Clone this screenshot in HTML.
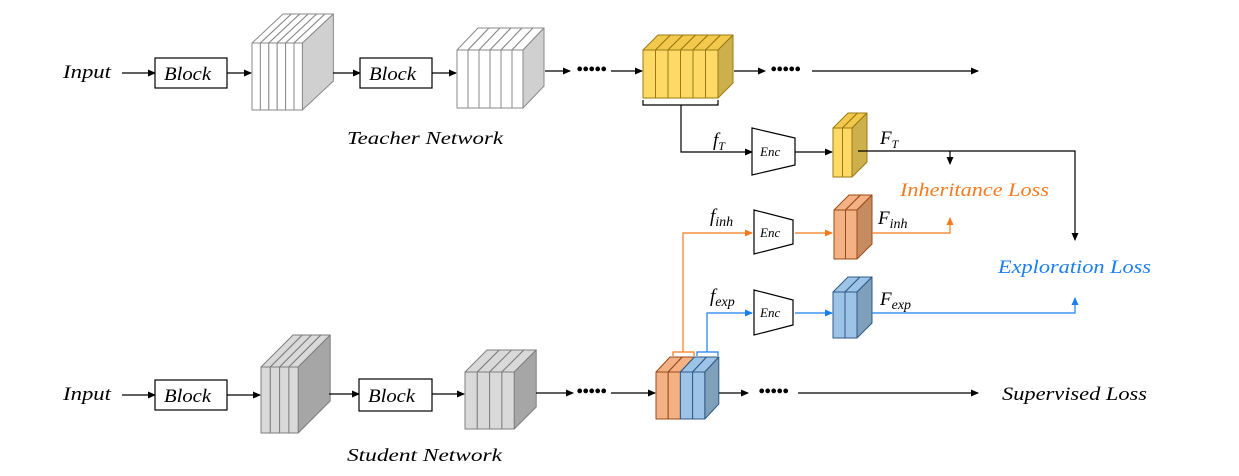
<!DOCTYPE html>
<html><head><meta charset="utf-8"><style>
html,body{margin:0;padding:0;background:#fff}
svg{display:block}
text{font-family:"Liberation Serif",serif;font-style:italic}
</style></head><body>
<svg width="1239" height="476" viewBox="0 0 1239 476" xmlns="http://www.w3.org/2000/svg" xmlns:xlink="http://www.w3.org/1999/xlink">
<defs>
<marker id="ak" markerWidth="8" markerHeight="8" refX="7" refY="4" orient="auto" markerUnits="userSpaceOnUse"><path d="M0,0.5 L8,4 L0,7.5 z" fill="#000"/></marker>
<marker id="ao" markerWidth="8" markerHeight="8" refX="7" refY="4" orient="auto" markerUnits="userSpaceOnUse"><path d="M0,0.5 L8,4 L0,7.5 z" fill="#f47b20"/></marker>
<marker id="ab" markerWidth="8" markerHeight="8" refX="7" refY="4" orient="auto" markerUnits="userSpaceOnUse"><path d="M0,0.5 L8,4 L0,7.5 z" fill="#1a7ef0"/></marker>
<g id="t1" stroke="#8a8a8a" stroke-width="1" stroke-linejoin="round">
<polygon points="0,0 31,-29 39.4,-29 8.4,0" fill="#fff"/>
<polygon points="8.4,0 39.4,-29 39.4,38 8.4,67" fill="#d0d0d0"/>
<rect x="0" y="0" width="8.4" height="67" fill="#fff"/>
</g>
<g id="t2" stroke="#8a8a8a" stroke-width="1" stroke-linejoin="round">
<polygon points="0,0 21,-22 32,-22 11,0" fill="#fff"/>
<polygon points="11,0 32,-22 32,36 11,58" fill="#d0d0d0"/>
<rect x="0" y="0" width="11" height="58" fill="#fff"/>
</g>
<g id="gd" stroke="#9a7a10" stroke-width="1" stroke-linejoin="round">
<polygon points="0,0 15,-15 27.5,-15 12.5,0" fill="#f2c94c"/>
<polygon points="12.5,0 27.5,-15 27.5,33 12.5,48" fill="#cdb04c"/>
<rect x="0" y="0" width="12.5" height="48" fill="#ffd966"/>
</g>
<g id="gs" stroke="#9a7a10" stroke-width="1" stroke-linejoin="round">
<polygon points="0,0 15,-15 24.5,-15 9.5,0" fill="#f2c94c"/>
<polygon points="9.5,0 24.5,-15 24.5,34 9.5,49" fill="#cdb04c"/>
<rect x="0" y="0" width="9.5" height="49" fill="#ffd966"/>
</g>
<g id="os" stroke="#9a4a18" stroke-width="1" stroke-linejoin="round">
<polygon points="0,0 15,-15 26.5,-15 11.5,0" fill="#f4b183"/>
<polygon points="11.5,0 26.5,-15 26.5,34 11.5,49" fill="#c58c62"/>
<rect x="0" y="0" width="11.5" height="49" fill="#f4b183"/>
</g>
<g id="bs" stroke="#2f5a86" stroke-width="1" stroke-linejoin="round">
<polygon points="0,0 15,-15 27,-15 12,0" fill="#9dc3e6"/>
<polygon points="12,0 27,-15 27,31 12,46" fill="#7f9fba"/>
<rect x="0" y="0" width="12" height="46" fill="#9dc3e6"/>
</g>
<g id="s1" stroke="#7f7f7f" stroke-width="1" stroke-linejoin="round">
<polygon points="0,0 32,-32 41.3,-32 9.3,0" fill="#d9d9d9"/>
<polygon points="9.3,0 41.3,-32 41.3,34 9.3,66" fill="#a6a6a6"/>
<rect x="0" y="0" width="9.3" height="66" fill="#d9d9d9"/>
</g>
<g id="s2" stroke="#7f7f7f" stroke-width="1" stroke-linejoin="round">
<polygon points="0,0 22,-22 34.3,-22 12.3,0" fill="#d9d9d9"/>
<polygon points="12.3,0 34.3,-22 34.3,35 12.3,57" fill="#a6a6a6"/>
<rect x="0" y="0" width="12.3" height="57" fill="#d9d9d9"/>
</g>
<g id="mo" stroke="#9a4a18" stroke-width="1" stroke-linejoin="round">
<polygon points="0,0 14,-15 26.2,-15 12.2,0" fill="#f4b183"/>
<polygon points="12.2,0 26.2,-15 26.2,32 12.2,47" fill="#c58c62"/>
<rect x="0" y="0" width="12.2" height="47" fill="#f4b183"/>
</g>
<g id="mb" stroke="#2f5a86" stroke-width="1" stroke-linejoin="round">
<polygon points="0,0 14,-15 26.2,-15 12.2,0" fill="#9dc3e6"/>
<polygon points="12.2,0 26.2,-15 26.2,32 12.2,47" fill="#7f9fba"/>
<rect x="0" y="0" width="12.2" height="47" fill="#9dc3e6"/>
</g>
</defs>

<use xlink:href="#t1" href="#t1" x="252" y="43"/>
<use xlink:href="#t1" href="#t1" x="260.4" y="43"/>
<use xlink:href="#t1" href="#t1" x="268.8" y="43"/>
<use xlink:href="#t1" href="#t1" x="277.2" y="43"/>
<use xlink:href="#t1" href="#t1" x="285.6" y="43"/>
<use xlink:href="#t1" href="#t1" x="294" y="43"/>

<use xlink:href="#t2" href="#t2" x="457" y="50"/>
<use xlink:href="#t2" href="#t2" x="468" y="50"/>
<use xlink:href="#t2" href="#t2" x="479" y="50"/>
<use xlink:href="#t2" href="#t2" x="490" y="50"/>
<use xlink:href="#t2" href="#t2" x="501" y="50"/>
<use xlink:href="#t2" href="#t2" x="512" y="50"/>

<use xlink:href="#gd" href="#gd" x="643" y="50"/>
<use xlink:href="#gd" href="#gd" x="655.5" y="50"/>
<use xlink:href="#gd" href="#gd" x="668" y="50"/>
<use xlink:href="#gd" href="#gd" x="680.5" y="50"/>
<use xlink:href="#gd" href="#gd" x="693" y="50"/>
<use xlink:href="#gd" href="#gd" x="705.5" y="50"/>

<use xlink:href="#gs" href="#gs" x="833" y="128"/>
<use xlink:href="#gs" href="#gs" x="842.5" y="128"/>
<use xlink:href="#os" href="#os" x="834" y="210"/>
<use xlink:href="#os" href="#os" x="845.5" y="210"/>
<use xlink:href="#bs" href="#bs" x="833" y="292"/>
<use xlink:href="#bs" href="#bs" x="845" y="292"/>

<use xlink:href="#s1" href="#s1" x="261" y="367"/>
<use xlink:href="#s1" href="#s1" x="270.3" y="367"/>
<use xlink:href="#s1" href="#s1" x="279.6" y="367"/>
<use xlink:href="#s1" href="#s1" x="288.9" y="367"/>

<use xlink:href="#s2" href="#s2" x="465" y="372"/>
<use xlink:href="#s2" href="#s2" x="477.3" y="372"/>
<use xlink:href="#s2" href="#s2" x="489.6" y="372"/>
<use xlink:href="#s2" href="#s2" x="501.9" y="372"/>

<use xlink:href="#mo" href="#mo" x="656" y="372"/>
<use xlink:href="#mo" href="#mo" x="668.2" y="372"/>
<use xlink:href="#mb" href="#mb" x="680.4" y="372"/>
<use xlink:href="#mb" href="#mb" x="692.6" y="372"/>

<g fill="none" stroke="#000" stroke-width="1.2">
<line x1="122" y1="73" x2="155" y2="73" marker-end="url(#ak)"/>
<rect x="155" y="58" width="72" height="30" fill="#fff"/>
<line x1="227" y1="73" x2="251" y2="73" marker-end="url(#ak)"/>
<line x1="333" y1="73" x2="360" y2="73" marker-end="url(#ak)"/>
<rect x="360" y="58" width="72" height="30" fill="#fff"/>
<line x1="432" y1="73" x2="456" y2="73" marker-end="url(#ak)"/>
<line x1="545" y1="71" x2="570" y2="71" marker-end="url(#ak)"/>
<line x1="611" y1="71" x2="642" y2="71" marker-end="url(#ak)"/>
<line x1="734" y1="71" x2="765" y2="71" marker-end="url(#ak)"/>
<line x1="812" y1="71" x2="978" y2="71" marker-end="url(#ak)"/>
<path d="M643,100 V105 H718 V100"/>
<path d="M681,105 V152 H752" marker-end="url(#ak)"/>
<path d="M752,128 L795,138 L795,165 L752,175 Z" fill="#fff"/>
<line x1="795" y1="152" x2="832" y2="152" marker-end="url(#ak)"/>
<path d="M858,151 H1075 V240" marker-end="url(#ak)"/>
<line x1="950" y1="151" x2="950" y2="164" marker-end="url(#ak)"/>
<line x1="122" y1="395" x2="155" y2="395" marker-end="url(#ak)"/>
<rect x="155" y="380" width="72" height="30" fill="#fff"/>
<line x1="227" y1="395" x2="260" y2="395" marker-end="url(#ak)"/>
<line x1="329" y1="394" x2="359" y2="394" marker-end="url(#ak)"/>
<rect x="359" y="379" width="73" height="32" fill="#fff"/>
<line x1="432" y1="394" x2="464" y2="394" marker-end="url(#ak)"/>
<line x1="536" y1="393" x2="573" y2="393" marker-end="url(#ak)"/>
<line x1="611" y1="393" x2="655" y2="393" marker-end="url(#ak)"/>
<line x1="719" y1="393" x2="748" y2="393" marker-end="url(#ak)"/>
<line x1="798" y1="393" x2="978" y2="393" marker-end="url(#ak)"/>
<path d="M754,210 L793,220 L793,244 L754,254 Z" fill="#fff"/>
<path d="M754,290 L793,300 L793,325 L754,335 Z" fill="#fff"/>
</g>
<g fill="none" stroke="#f47b20" stroke-width="1.2">
<path d="M673,356 V352 H694 V356"/>
<path d="M683,352 V233 H752" marker-end="url(#ao)"/>
<line x1="795" y1="233" x2="832" y2="233" marker-end="url(#ao)"/>
<path d="M872,233 H950 V218" marker-end="url(#ao)"/>
</g>
<g fill="none" stroke="#1a7ef0" stroke-width="1.2">
<path d="M697,356 V352 H718 V356"/>
<path d="M707,352 V313 H752" marker-end="url(#ab)"/>
<line x1="795" y1="313" x2="832" y2="313" marker-end="url(#ab)"/>
<path d="M872,313 H1075 V298" marker-end="url(#ab)"/>
</g>
<g fill="#000">
<text x="576" y="76" font-size="20" font-style="normal" letter-spacing="-1">•••••</text>
<text x="770" y="76" font-size="20" font-style="normal" letter-spacing="-1">•••••</text>
<text x="576" y="398" font-size="20" font-style="normal" letter-spacing="-1">•••••</text>
<text x="758" y="398" font-size="20" font-style="normal" letter-spacing="-1">•••••</text>
</g>
<g font-size="19" fill="#000">
<text x="63" y="78" textLength="48" lengthAdjust="spacingAndGlyphs">Input</text>
<text x="164" y="80" textLength="47" lengthAdjust="spacingAndGlyphs">Block</text>
<text x="369" y="80" textLength="47" lengthAdjust="spacingAndGlyphs">Block</text>
<text x="63" y="400" textLength="48" lengthAdjust="spacingAndGlyphs">Input</text>
<text x="164" y="402" textLength="47" lengthAdjust="spacingAndGlyphs">Block</text>
<text x="368" y="402" textLength="47" lengthAdjust="spacingAndGlyphs">Block</text>
<text x="1002" y="400" textLength="145" lengthAdjust="spacingAndGlyphs">Supervised Loss</text>
<text x="347" y="144" font-size="18" textLength="156" lengthAdjust="spacingAndGlyphs">Teacher Network</text>
<text x="347" y="461" font-size="18" textLength="155" lengthAdjust="spacingAndGlyphs">Student Network</text>
<text x="713" y="146">f<tspan font-size="12" dy="4">T</tspan></text>
<text x="880" y="144">F<tspan font-size="12" dy="4">T</tspan></text>
<text x="710" y="222">f<tspan font-size="14" dy="4">inh</tspan></text>
<text x="878" y="224">F<tspan font-size="14" dy="4">inh</tspan></text>
<text x="710" y="302">f<tspan font-size="14" dy="4">exp</tspan></text>
<text x="880" y="305">F<tspan font-size="14" dy="4">exp</tspan></text>
<text x="760" y="156" font-size="13">Enc</text>
<text x="760" y="237" font-size="13">Enc</text>
<text x="760" y="317" font-size="13">Enc</text>
<text x="900" y="196" fill="#f47b20" textLength="149" lengthAdjust="spacingAndGlyphs">Inheritance Loss</text>
<text x="998" y="273" fill="#1a7ef0" textLength="153" lengthAdjust="spacingAndGlyphs">Exploration Loss</text>
</g>
</svg>
</body></html>
